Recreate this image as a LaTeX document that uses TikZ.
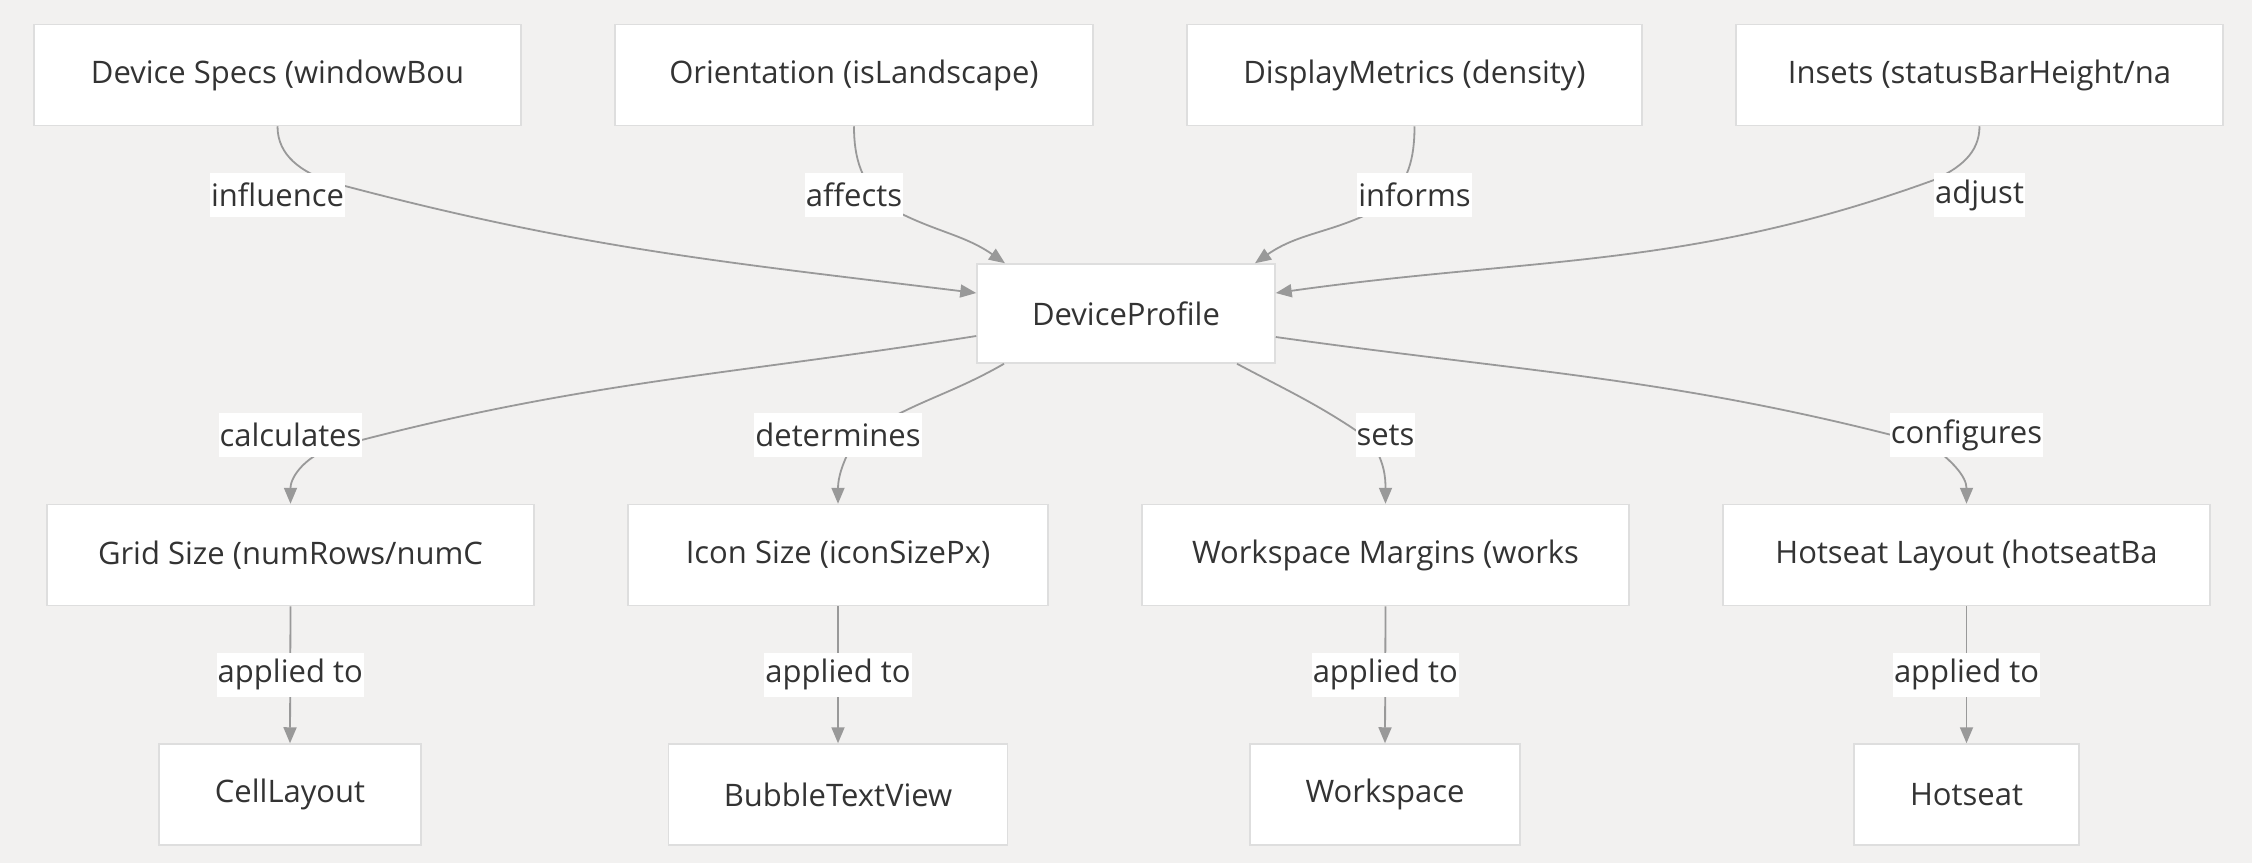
\documentclass[tikz,border=0pt]{standalone}
\usepackage{fontspec}
\setmainfont{Open Sans}
\usetikzlibrary{arrows.meta}
\definecolor{bgcol}{HTML}{F2F1F0}
\definecolor{boxline}{HTML}{DEDEDE}
\definecolor{edgecol}{HTML}{999999}
\definecolor{txt}{HTML}{333333}
\tikzset{>/.tip={Triangle[length=16pt,width=13pt]}}

\begin{document}
\begin{tikzpicture}[x=1pt,y=1pt,
  box/.style={draw=boxline, line width=1.5pt, fill=white, minimum height=101pt,
    inner sep=0pt, text=txt, font=\fontsize{31}{35}\selectfont},
  edge/.style={draw=edgecol, line width=1.8pt, ->},
  lbl/.style={fill=white, inner xsep=1pt, inner ysep=0pt, minimum height=44pt,
    text=txt, font=\fontsize{31}{35}\selectfont}]
\fill[bgcol] (0,0) rectangle (2252,-863);
% top row
\node[box, minimum width=487pt] (ds)  at (277.5,-75)  {Device Specs (windowBou};
\node[box, minimum width=478pt] (ori) at (854,-75)    {Orientation (isLandscape)};
\node[box, minimum width=455pt] (dm)  at (1414.5,-75) {DisplayMetrics (density)};
\node[box, minimum width=487pt] (ins) at (1979.5,-75) {Insets (statusBarHeight/na};
% profile
\node[box, minimum width=298pt, minimum height=99pt] (dp) at (1126,-313.5) {DeviceProfile};
% derived values
\node[box, minimum width=487pt] (grid) at (290.5,-555)  {Grid Size (numRows/numC};
\node[box, minimum width=420pt] (icon) at (838,-555)    {Icon Size (iconSizePx)};
\node[box, minimum width=487pt] (wsm)  at (1385.5,-555) {Workspace Margins (works};
\node[box, minimum width=487pt] (hsl)  at (1966.5,-555) {Hotseat Layout (hotseatBa};
% views
\node[box, minimum width=262pt] (cell)   at (290,-794.5)    {CellLayout};
\node[box, minimum width=339pt] (bubble) at (838,-794.5)    {BubbleTextView};
\node[box, minimum width=270pt] (ws)     at (1385,-794.5)   {Workspace};
\node[box, minimum width=225pt] (hs)     at (1966.5,-794.5) {Hotseat};

\draw[edge] (ds.south) to[out=-90,in=160] (330,-182) to[out=-15,in=173] ([yshift=20.5]dp.west)
  node[lbl] at (277.5,-195) {influence};
\draw[edge] (ori.south) to[out=-90,in=135] (885,-205) to[out=-30,in=145] ([xshift=-121]dp.north)
  node[lbl] at (854,-195) {affects};
\draw[edge] (dm.south) to[out=-90,in=45] (1385,-205) to[out=-150,in=35] ([xshift=129]dp.north)
  node[lbl] at (1414.5,-195) {informs};
\draw[edge] (ins.south) to[out=-90,in=25] (1934,-180) to[out=200,in=8] ([yshift=20.5]dp.east)
  node[lbl] at (1979.5,-195) {adjust};

\draw[edge] ([yshift=-22.5]dp.west) to[out=189,in=15] (335,-447) to[out=195,in=90] (grid.north)
  node[lbl] at (290.5,-435) {calculates};
\draw[edge] ([xshift=-122]dp.south) to[out=210,in=35] (855,-440) to[out=-120,in=90] (icon.north)
  node[lbl] at (838,-435) {determines};
\draw[edge] ([xshift=111]dp.south) to[out=-28,in=145] (1370,-440) to[out=-55,in=90] (wsm.north)
  node[lbl] at (1385.5,-435) {sets};
\draw[edge] ([yshift=-23.5]dp.east) to[out=-8,in=165] (1930,-445) to[out=-35,in=90] (hsl.north)
  node[lbl] at (1966.5,-435) {configures};

\foreach \a/\b in {grid/cell, icon/bubble, wsm/ws, hsl/hs}
  \draw[edge] (\a.south) -- node[lbl] {applied to} (\b.north);
\end{tikzpicture}
\end{document}
